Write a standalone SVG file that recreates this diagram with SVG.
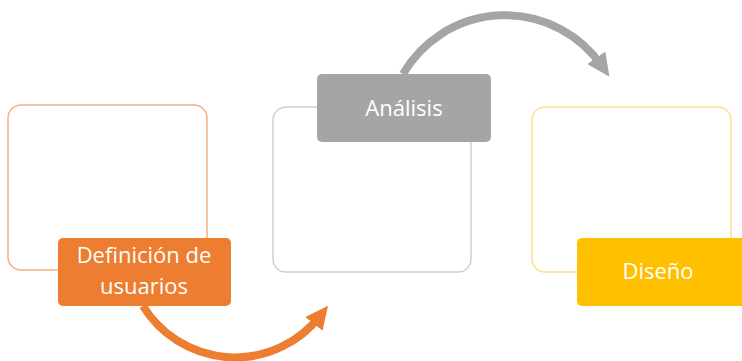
<svg xmlns="http://www.w3.org/2000/svg" width="742" height="361" viewBox="0 0 742 361">
<style>
.box{fill:#ffffff;stroke-width:1.5}
.lbl{stroke:none}
.t{font-family:"Open Sans","Liberation Sans",sans-serif;font-size:22px;fill:#ffffff;text-anchor:middle}
.arc{fill:none;stroke-width:8}
</style>
<defs>
<marker id="headO" markerUnits="userSpaceOnUse" markerWidth="24" markerHeight="22" refX="10" refY="11" orient="auto">
<path d="M0,0 L23,11 L0,22 Z" fill="#ED7D31"/>
</marker>
<marker id="headG" markerUnits="userSpaceOnUse" markerWidth="24" markerHeight="22" refX="10" refY="11" orient="auto">
<path d="M0,0 L23,11 L0,22 Z" fill="#A5A5A5"/>
</marker>
</defs>
<rect width="742" height="361" fill="#ffffff"/>
<g id="frame1"><rect class="box" x="8" y="105" width="199" height="165" rx="13" stroke="#F4B183"/></g>
<g id="frame2"><rect class="box" x="273" y="107" width="198" height="165" rx="13" stroke="#D0D0D0"/></g>
<g id="frame3"><rect class="box" x="532" y="107" width="199" height="165" rx="13" stroke="#FFE08A"/></g>
<g id="connectors">
<path class="arc" d="M143,306 A108,108 0 0 0 320,316" stroke="#ED7D31" marker-end="url(#headO)"/>
<path class="arc" d="M403,74 A118,118 0 0 1 602,66" stroke="#A5A5A5" marker-end="url(#headG)"/>
</g>
<g id="definicion">
<rect class="lbl" x="58" y="238" width="173" height="68" rx="5" fill="#ED7D31"/>
<text class="t" x="144" y="263">Definición de</text>
<text class="t" x="144" y="294">usuarios</text>
</g>
<g id="analisis">
<rect class="lbl" x="317" y="74" width="174" height="68" rx="5" fill="#A5A5A5"/>
<text class="t" x="404" y="116">Análisis</text>
</g>
<g id="diseno">
<rect class="lbl" x="577" y="238" width="175" height="68" rx="5" fill="#FFC000"/>
<text class="t" x="658" y="279">Diseño</text>
</g>
</svg>
